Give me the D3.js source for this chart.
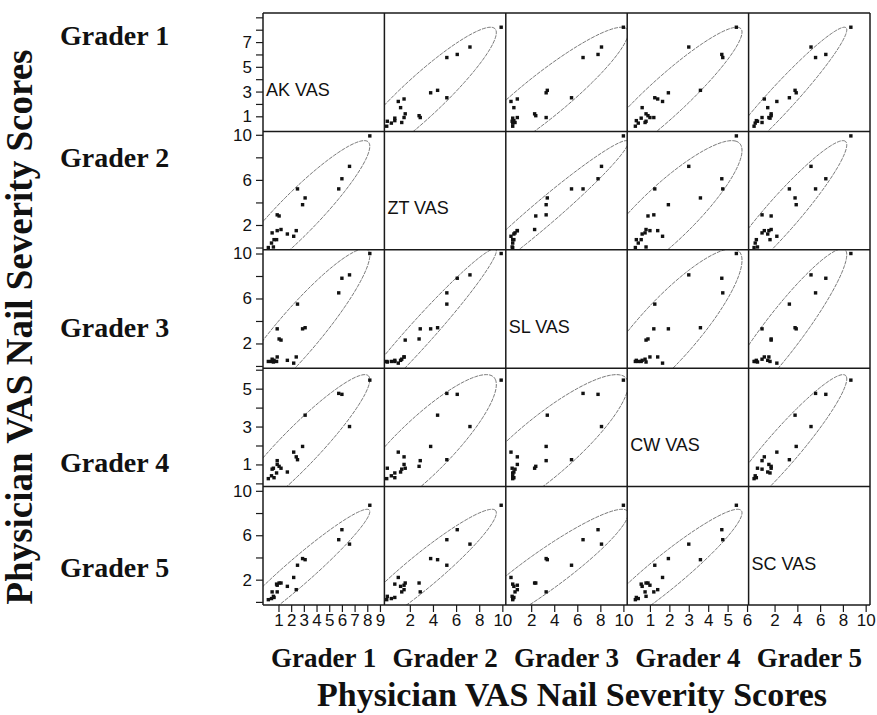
<!DOCTYPE html>
<html>
<head>
<meta charset="utf-8">
<script src="https://cdn.jsdelivr.net/npm/d3@7"></script>
<style>
  body { margin: 0; background: #fff; }
</style>
</head>
<body>
<svg id="chart" width="877" height="715"></svg>
<script>
// Scatterplot matrix of physician VAS nail severity scores, five graders.
// One value per patient and grader; every cell reuses the same patients.

const grader_codes = ["AK VAS", "ZT VAS", "SL VAS", "CW VAS", "SC VAS"];
const grader_names = ["Grader 1", "Grader 2", "Grader 3", "Grader 4", "Grader 5"];

const ak_vas = [8.2, 6.6, 6.0, 5.75, 3.1, 2.9, 2.5, 2.4, 2.2, 1.7, 1.2, 1.05, 0.9, 0.9, 0.85, 0.65, 0.45, 0.6, 0.2, 0.5];
const zt_vas = [9.9, 7.2, 6.1, 5.2, 4.4, 3.8, 5.2, 1.5, 1.0, 1.2, 1.6, 2.8, 2.9, 1.5, 0.7, 0.7, 0.4, 0.05, 0.0, 1.3];
const sl_vas = [10.0, 8.1, 7.8, 6.5, 3.4, 3.3, 5.5, 0.8, 0.25, 0.5, 2.3, 2.4, 3.3, 0.8, 0.4, 0.5, 0.4, 0.35, 0.4, 0.6];
const cw_vas = [5.45, 3.0, 4.7, 4.75, 3.6, 1.95, 1.25, 1.4, 1.65, 0.6, 0.8, 0.9, 1.2, 1.0, 0.55, 0.3, 0.4, 0.8, 0.25, 0.75];
const sc_vas = [8.7, 5.2, 6.5, 5.6, 3.8, 3.9, 3.3, 1.1, 2.2, 1.4, 1.7, 1.7, 0.9, 1.5, 1.6, 0.4, 0.3, 0.5, 0.2, 0.9];
const scores = [ak_vas, zt_vas, sl_vas, cw_vas, sc_vas];

const domains = [[-0.22, 9.35], [-0.2, 10.3], [-0.2, 10.33], [-0.17, 6.08], [-0.28, 10.38]];
const y_ticks = [[1, 2, 3, 4, 5, 6, 7, 8, 9], [0, 2, 4, 6, 8, 10], [0, 2, 4, 6, 8, 10], [0, 1, 2, 3, 4, 5, 6], [0, 2, 4, 6, 8, 10]];
const y_labels = [[1, 3, 5, 7], [2, 6, 10], [2, 6, 10], [1, 3, 5], [2, 6, 10]];
const x_ticks = [[1, 2, 3, 4, 5, 6, 7, 8, 9], [2, 4, 6, 8, 10], [2, 4, 6, 8, 10], [1, 2, 3, 4, 5, 6], [2, 4, 6, 8, 10]];
const row_label_baselines = [45, 167, 337, 472, 577];

const ELLIPSE_LEVEL = 5.991; // chi-square 95%, two degrees of freedom
const grid_left = 263, grid_top = 13, cell_w = 121.4, cell_h = 118.4;
const sans = "'Liberation Sans', Arial, sans-serif";
const serif = "'Liberation Serif', 'Times New Roman', serif";

function ellipse_points(xs, ys, count = 180) {
  const mx = d3.mean(xs), my = d3.mean(ys);
  const n = xs.length;
  let sxx = 0, syy = 0, sxy = 0;
  for (let i = 0; i < n; i += 1) {
    sxx += (xs[i] - mx) ** 2;
    syy += (ys[i] - my) ** 2;
    sxy += (xs[i] - mx) * (ys[i] - my);
  }
  sxx /= n - 1; syy /= n - 1; sxy /= n - 1;
  const half_trace = (sxx + syy) / 2;
  const root = Math.sqrt(half_trace * half_trace - (sxx * syy - sxy * sxy));
  const major = Math.sqrt(ELLIPSE_LEVEL * (half_trace + root));
  const minor = Math.sqrt(ELLIPSE_LEVEL * Math.max(half_trace - root, 0));
  const theta = 0.5 * Math.atan2(2 * sxy, sxx - syy);
  const points = [];
  for (let i = 0; i <= count; i += 1) {
    const t = (2 * Math.PI * i) / count;
    const a = major * Math.cos(t), b = minor * Math.sin(t);
    points.push([mx + a * Math.cos(theta) - b * Math.sin(theta), my + a * Math.sin(theta) + b * Math.cos(theta)]);
  }
  return points;
}

const svg = d3.select("#chart");
const x_scales = domains.map((domain, col) =>
  d3.scaleLinear().domain(domain).range([grid_left + col * cell_w, grid_left + (col + 1) * cell_w]));
const y_scales = domains.map((domain, row) =>
  d3.scaleLinear().domain(domain).range([grid_top + (row + 1) * cell_h, grid_top + row * cell_h]));

const defs = svg.append("defs");

for (let row = 0; row < 5; row += 1) {
  for (let col = 0; col < 5; col += 1) {
    const x0 = grid_left + col * cell_w, y0 = grid_top + row * cell_h;
    const cell = svg.append("g");
    if (row === col) {
      cell.append("text")
        .attr("x", x0 + 3)
        .attr("y", y0 + cell_h * 0.65 + 6)
        .attr("font-family", sans)
        .attr("font-size", 18)
        .attr("fill", "#111")
        .text(grader_codes[row]);
      continue;
    }
    const clip_id = `clip_${row}_${col}`;
    defs.append("clipPath").attr("id", clip_id)
      .append("rect").attr("x", x0).attr("y", y0).attr("width", cell_w).attr("height", cell_h);
    const x = x_scales[col], y = y_scales[row];
    const xs = scores[col], ys = scores[row];
    const line = d3.line().x((p) => x(p[0])).y((p) => y(p[1]));
    cell.append("path")
      .attr("clip-path", `url(#${clip_id})`)
      .attr("d", line(ellipse_points(xs, ys)))
      .attr("fill", "none")
      .attr("stroke", "#555")
      .attr("stroke-width", 0.8)
      .attr("stroke-dasharray", "4 1");
    cell.append("g")
      .attr("clip-path", `url(#${clip_id})`)
      .selectAll("rect")
      .data(xs.map((value, i) => [value, ys[i]]))
      .join("rect")
      .attr("x", (p) => x(p[0]) - 1.7)
      .attr("y", (p) => y(p[1]) - 1.7)
      .attr("width", 3.4)
      .attr("height", 3.4)
      .attr("fill", "#111");
  }
}

// grid frame
for (let i = 0; i <= 5; i += 1) {
  svg.append("line")
    .attr("x1", grid_left + i * cell_w).attr("x2", grid_left + i * cell_w)
    .attr("y1", grid_top).attr("y2", grid_top + 5 * cell_h)
    .attr("stroke", "#1a1a1a").attr("stroke-width", 1.5);
  svg.append("line")
    .attr("x1", grid_left).attr("x2", grid_left + 5 * cell_w)
    .attr("y1", grid_top + i * cell_h).attr("y2", grid_top + i * cell_h)
    .attr("stroke", "#1a1a1a").attr("stroke-width", 1.5);
}

// axes
function style_axis(g) {
  g.select(".domain").remove();
  g.selectAll("line").attr("stroke", "#1a1a1a").attr("stroke-width", 1.2);
  g.selectAll("text").attr("font-family", sans).attr("font-size", 17).attr("fill", "#111");
}

y_scales.forEach((y, row) => {
  svg.append("g")
    .attr("transform", `translate(${grid_left},0)`)
    .call(d3.axisLeft(y).tickValues(y_ticks[row]).tickSize(7).tickPadding(4)
      .tickFormat((d) => (y_labels[row].includes(d) ? String(d) : "")))
    .call(style_axis);
});

x_scales.forEach((x, col) => {
  svg.append("g")
    .attr("transform", `translate(0,${grid_top + 5 * cell_h})`)
    .call(d3.axisBottom(x).tickValues(x_ticks[col]).tickSize(7).tickPadding(2)
      .tickFormat((d) => String(d)))
    .call(style_axis);
});

// grader titles
grader_names.forEach((name, i) => {
  svg.append("text")
    .attr("x", 60)
    .attr("y", row_label_baselines[i])
    .attr("font-family", serif)
    .attr("font-weight", "bold")
    .attr("font-size", 28)
    .attr("fill", "#111")
    .text(name);
  svg.append("text")
    .attr("x", grid_left + (i + 0.5) * cell_w)
    .attr("y", 667)
    .attr("text-anchor", "middle")
    .attr("font-family", serif)
    .attr("font-weight", "bold")
    .attr("font-size", 27)
    .attr("fill", "#111")
    .text(name);
});

svg.append("text")
  .attr("x", 572)
  .attr("y", 706)
  .attr("text-anchor", "middle")
  .attr("font-family", serif)
  .attr("font-weight", "bold")
  .attr("font-size", 34)
  .attr("fill", "#111")
  .text("Physician VAS Nail Severity Scores");

svg.append("text")
  .attr("transform", "translate(32,327) rotate(-90)")
  .attr("text-anchor", "middle")
  .attr("font-family", serif)
  .attr("font-weight", "bold")
  .attr("font-size", 37)
  .attr("fill", "#111")
  .text("Physician VAS Nail Severity Scores");
</script>
</body>
</html>
